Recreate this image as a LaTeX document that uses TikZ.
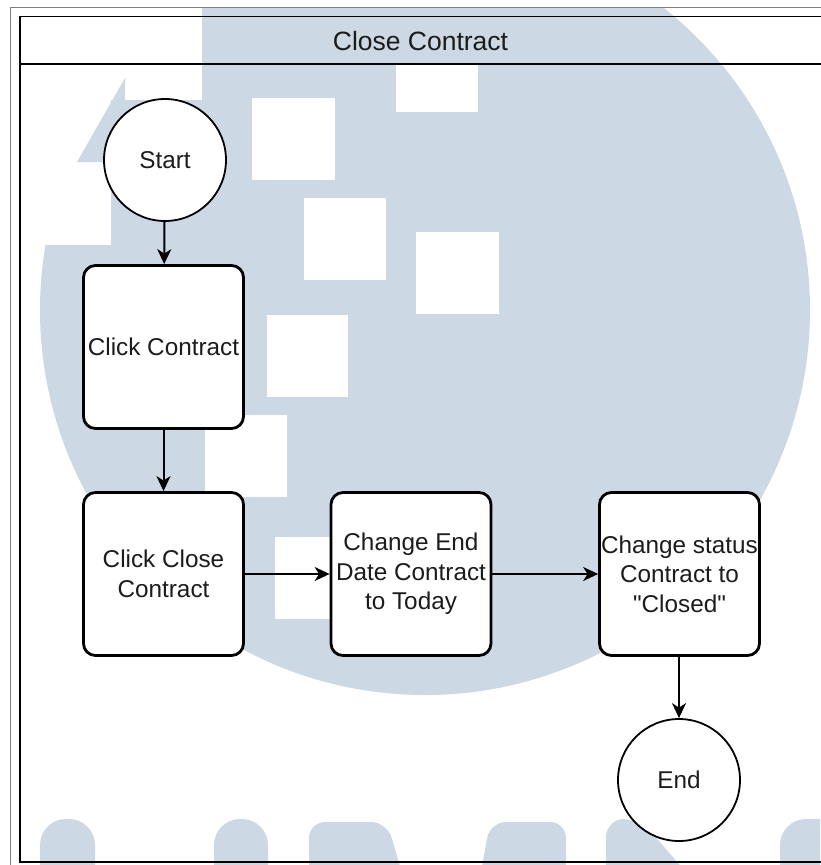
\documentclass[tikz,border=0pt]{standalone}
\usepackage{fontspec}
\setmainfont{Liberation Sans}[Ligatures=TeXOff]
\usetikzlibrary{arrows.meta}
\definecolor{wm}{RGB}{204,216,227}
\definecolor{txt}{RGB}{28,28,28}
\tikzset{
  proc/.style={draw=black, fill=white, line width=2.8pt, rounded corners=12pt,
    minimum width=160pt, minimum height=163pt, inner sep=0pt, align=center,
    text=txt, font=\fontsize{24.3}{29.5}\selectfont},
  term/.style={draw=black, fill=white, line width=1.8pt, circle, minimum size=122pt,
    inner sep=0pt, text=txt, font=\fontsize{24.3}{29.5}\selectfont},
  flow/.style={draw=black, line width=2pt, -{Stealth[length=15pt,width=14pt,inset=4.5pt]}},
  blob/.style={fill=wm, rounded corners=20pt}
}
\begin{document}
\begin{tikzpicture}[x=1pt,y=-1pt]
\useasboundingbox (0,0) rectangle (820,865);
% watermark
\begin{scope}
\clip (10.5,7.5) rectangle (820,865);
\fill[wm] (425,310) circle (385);
\fill[white] (0,0) rectangle (202,100);
\fill[white] (0,0) rectangle (111,245);
\fill[wm] (125,78) -- (77,162) -- (125,162) -- cycle;
\fill[white] (252,98) rectangle (335,180);
\fill[white] (396,65) rectangle (478,112);
\fill[white] (304,198) rectangle (386,280);
\fill[white] (416,232) rectangle (499,314);
\fill[white] (267,315) rectangle (348,397);
\fill[white] (205,415) rectangle (287,497);
\fill[white] (275,537) rectangle (357,619);
\fill[blob, rounded corners=26pt] (40,900) -- (40,819) -- (95,819) -- (95,900) -- cycle;
\fill[blob, rounded corners=26pt] (214,900) -- (214,819) -- (268,819) -- (268,900) -- cycle;
\fill[blob, rounded corners=16pt] (309,900) -- (309,822) -- (387,822) -- (410,900) -- cycle;
\fill[blob, rounded corners=16pt] (476,900) -- (490,822) -- (566,822) -- (566,900) -- cycle;
\fill[blob, rounded corners=18pt] (606,900) -- (606,819) -- (640,819) -- (710,900) -- cycle;
\fill[blob, rounded corners=26pt] (780,900) -- (780,819) -- (850,819) -- (850,900) -- cycle;
\end{scope}
% frames
\draw[gray, line width=1pt] (10.5,870) -- (10.5,7.5) -- (830,7.5);
\draw[black, line width=1.3pt] (830,16.5) -- (20,16.5) -- (20,862) -- (830,862);
\draw[black, line width=1.3pt] (20,64) -- (830,64);
\node[text=txt, font=\fontsize{26.5}{30}\selectfont] (title) at (420.5,41) {Close Contract};
% nodes
\node[term] (start) at (165,160) {Start};
\node[proc] (click) at (163.5,347) {Click Contract};
\node[proc] (close) at (163.5,574) {Click Close\\Contract};
\node[proc] (date) at (411,574) {Change End\\Date Contract\\to Today};
\node[proc] (status) at (679.5,574) {Change status\\Contract to\\"Closed"};
\node[term] (end) at (679,780) {End};
% connectors
\draw[flow] (start) -- (click);
\draw[flow] (click) -- (close);
\draw[flow] (close) -- (date);
\draw[flow] (date) -- (status);
\draw[flow] (status.south -| end) -- (end);
\end{tikzpicture}
\end{document}
